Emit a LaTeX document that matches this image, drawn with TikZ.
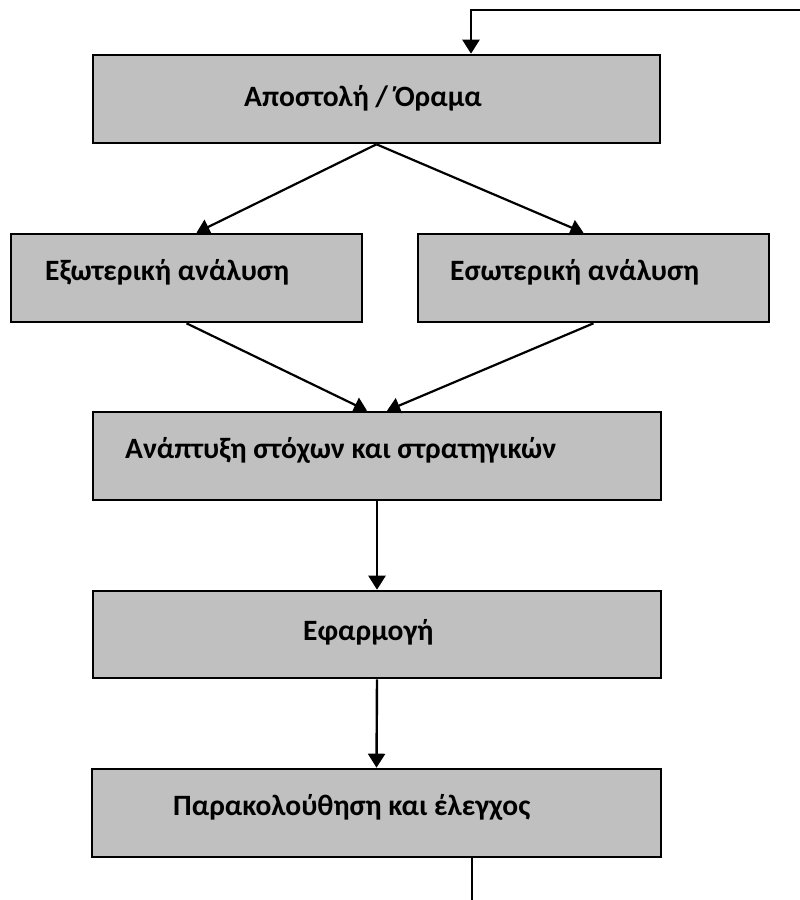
\documentclass[tikz,border=0pt]{standalone}
\usepackage{fontspec}
\setmainfont{Carlito}
\usetikzlibrary{arrows.meta}
\definecolor{boxgray}{HTML}{C0C0C0}
\tikzset{
  box/.style={draw=black, fill=boxgray, line width=2.6pt, minimum height=88pt, inner sep=0pt},
  lbl/.style={anchor=base west, inner sep=0pt, font=\fontsize{29.5}{35}\selectfont\bfseries},
  arr/.style={line width=2.4pt, -{Triangle[width=17pt,length=14pt]}},
  darr/.style={line width=2.2pt, -{Triangle[width=16pt,length=13pt]}},
  plain/.style={line width=2.8pt}
}
\begin{document}
\begin{tikzpicture}[x=1pt,y=-1pt]
\useasboundingbox (0,0) rectangle (800,900);
% boxes
\node[box, minimum width=567pt] (top) at (376.5,99) {};
\node[box, minimum width=351pt] (ext) at (186.5,278) {};
\node[box, minimum width=351pt] (int) at (593.5,278) {};
\node[box, minimum width=568pt] (dev) at (377,456) {};
\node[box, minimum width=568pt, minimum height=87pt] (imp) at (377,634.5) {};
\node[box, minimum width=569pt] (mon) at (376.5,813) {};
% texts
\node[lbl] (topt) at (244,106) {Αποστολή / Όραμα};
\node[lbl] (extt) at (45,280) {Εξωτερική ανάλυση};
\node[lbl] (intt) at (450,280) {Εσωτερική ανάλυση};
\node[lbl] (devt) at (125,458) {Ανάπτυξη στόχων και στρατηγικών};
\node[lbl] (impt) at (303,640) {Εφαρμογή};
\node[lbl] (mont) at (173,815) {Παρακολούθηση και έλεγχος};
% connectors
\draw[darr] (top.south) -- ([xshift=10pt]ext.north);
\draw[darr] (top.south) -- ([xshift=-10pt]int.north);
\draw[darr] (ext.south) -- ([xshift=-10pt]dev.north);
\draw[darr] (int.south) -- ([xshift=10pt]dev.north);
\draw[arr] (dev.south) -- (imp.north);
\draw[arr] (imp.south) -- (mon.north);
% feedback loop
\coordinate (fbR) at (800,10);
\coordinate (fbB) at (472,900);
\draw[arr] (fbR) -| ([xshift=94.5pt]top.north);
\draw[plain] (mon.south -| fbB) -- (fbB);
\end{tikzpicture}
\end{document}
